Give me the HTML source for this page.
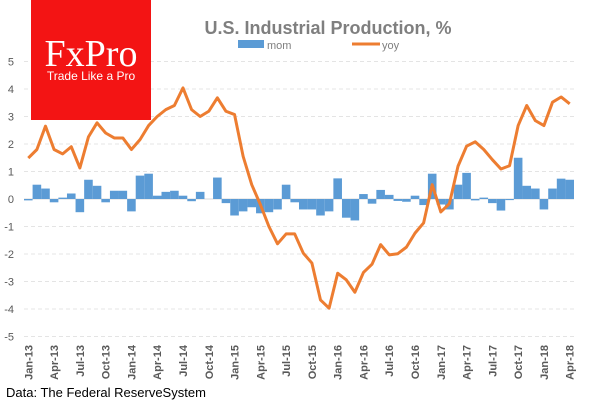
<!DOCTYPE html>
<html><head><meta charset="utf-8"><style>
body{margin:0;background:#fff;width:600px;height:400px;overflow:hidden;font-family:"Liberation Sans",sans-serif}
</style></head><body>
<svg id="c" width="600" height="400" xmlns="http://www.w3.org/2000/svg">
<text x="328" y="34" text-anchor="middle" fill="#7f7f7f" font-size="18" font-weight="bold">U.S. Industrial Production, %</text>
<rect x="238" y="40" width="26" height="8" fill="#5b9bd5"/>
<text x="267" y="49" fill="#7f7f7f" font-size="11">mom</text>
<line x1="352" y1="44" x2="380" y2="44" stroke="#ed7d31" stroke-width="3"/>
<text x="382" y="49" fill="#7f7f7f" font-size="11">yoy</text>
<g id="grid"></g><g id="bars"></g><g id="line"></g><g id="xl"></g>
<rect x="31" y="0" width="120" height="120" fill="#f31414"/>
<text x="91" y="66" text-anchor="middle" fill="#fff" font-family="Liberation Serif,serif" font-size="38">FxPro</text>
<text x="91" y="80" text-anchor="middle" fill="#fff" font-size="12">Trade Like a Pro</text>
<text x="6" y="397" fill="#000" font-size="13">Data: The Federal ReserveSystem</text>
</svg>
<script>
const months=["Jan","Feb","Mar","Apr","May","Jun","Jul","Aug","Sep","Oct","Nov","Dec"];
const mom=[-0.05,0.52,0.38,-0.12,0.05,0.2,-0.48,0.7,0.48,-0.12,0.3,0.3,-0.45,0.85,0.92,0.12,0.26,0.3,0.12,-0.08,0.26,0,0.78,-0.15,-0.6,-0.45,-0.3,-0.52,-0.48,-0.38,0.52,-0.12,-0.38,-0.38,-0.6,-0.45,0.75,-0.68,-0.78,0.18,-0.17,0.33,0.15,-0.07,-0.1,0.12,-0.22,0.92,-0.2,-0.38,0.52,0.95,-0.05,0.05,-0.15,-0.42,-0.04,1.5,0.48,0.38,-0.38,0.38,0.74,0.7];
const yoy=[1.49,1.8,2.65,1.8,1.64,1.9,1.13,2.26,2.77,2.4,2.22,2.22,1.8,2.16,2.67,3.0,3.25,3.4,4.04,3.25,3.0,3.19,3.68,3.19,3.07,1.55,0.52,-0.2,-1.0,-1.63,-1.27,-1.27,-1.97,-2.33,-3.67,-3.97,-2.7,-2.94,-3.39,-2.67,-2.37,-1.66,-2.03,-1.99,-1.75,-1.24,-0.87,0.52,-0.47,-0.17,1.19,1.92,2.08,1.8,1.43,1.09,1.21,2.67,3.4,2.85,2.67,3.52,3.71,3.46];
const yTicks=[5,4,3,2,1,0,-1,-2,-3,-4,-5];
const NS="http://www.w3.org/2000/svg";
const x0=24,x1=574,n=yoy.length,step=(x1-x0)/n;
const X=i=>x0+step*(i+0.5);
const Y=v=>199-v*27.5;
function mk(t,a,p){const e=document.createElementNS(NS,t);for(const k in a)e.setAttribute(k,a[k]);document.getElementById(p).appendChild(e);return e;}
yTicks.forEach(v=>{
 if(v!==0){const l=mk("line",{x1:x0,x2:x1,y1:Y(v),y2:Y(v),stroke:"#e4e4e4","stroke-dasharray":"4,3"},"grid");
 
 }
 const t=mk("text",{x:14,y:Y(v)+4,"text-anchor":"end",fill:"#595959","font-size":"11"},"grid");t.textContent=v;
 
 
});
mom.forEach((v,i)=>{
 const r=mk("rect",{x:X(i)-step/2,y:Math.min(Y(v),Y(0)),width:step,height:Math.abs(Y(v)-Y(0)),fill:"#5b9bd5"},"bars");
 
 
});
const z=mk("line",{x1:x0,x2:x1,y1:Y(0),y2:Y(0),stroke:"#d9d9d9"},"grid");


const p=mk("polyline",{points:yoy.map((v,i)=>X(i)+","+Y(v)).join(" "),fill:"none",stroke:"#ed7d31","stroke-width":"3","stroke-linejoin":"round"},"line");


for(let i=0;i<n;i+=3){
 const lab=months[i%12]+"-"+String(13+Math.floor(i/12));
 const t=mk("text",{transform:`translate(${X(i)+4},345) rotate(-90)`,"text-anchor":"end",fill:"#595959","font-size":"11","font-weight":"bold"},"xl");
 t.textContent=lab;
 
 
}
</script>
</body></html>
